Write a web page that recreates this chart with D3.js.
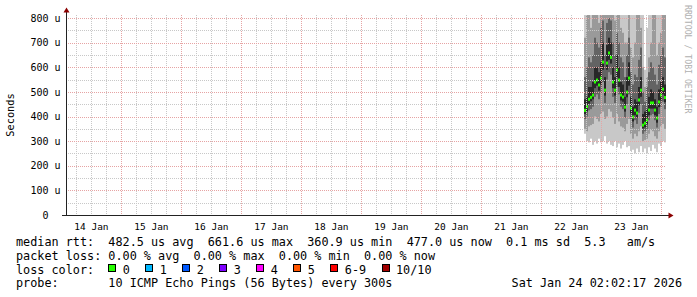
<!DOCTYPE html>
<html>
<head>
<meta charset="utf-8">
<script src="https://cdn.jsdelivr.net/npm/d3@7"></script>
<style>
body { margin: 0; background: #fff; }
text { font-family: "DejaVu Sans Mono", monospace; white-space: pre; }
</style>
</head>
<body>
<svg width="697" height="297"></svg>
<script>
// graph window: 10 days ending at the time stamp
var endTime = Date.UTC(2026, 0, 24, 2, 2, 17);
var startTime = endTime - 10 * 86400000;
var step = 2880000; // one smoke column = 48 min
var firstSample = endTime - 41 * step;

// median rtt per column (us)
var median = [425,440,470,478,487,540,548,528,556,621,507,617,658,640,540,507,589,548,487,479,
              438,499,556,434,398,426,414,467,507,365,373,386,426,455,455,426,394,459,487,511,477];
// smoke bands, outer to inner (us)
var lo1 = [330,300,295,310,285,300,290,310,295,300,320,290,300,285,280,300,275,290,270,285,
           300,275,280,260,265,250,270,255,280,255,270,250,275,260,285,270,255,290,280,300,295];
var hi1 = [812,812,812,812,812,812,812,812,812,812,812,812,812,812,812,812,812,812,812,812,
           812,812,812,812,812,812,812,812,812,812,590,760,812,812,812,812,812,812,812,812,812];
var lo2 = [350,340,360,365,370,400,390,380,410,420,390,400,430,420,395,370,410,380,360,355,
           340,370,390,330,310,330,320,340,360,300,305,310,330,345,340,320,310,340,360,370,350];
var hi2 = [720,812,812,760,812,812,812,780,812,812,812,812,812,812,812,790,812,812,760,740,
           700,700,812,680,640,700,812,812,760,600,520,560,640,700,812,812,650,700,740,812,812];
var lo3 = [390,400,425,430,440,480,490,470,495,540,455,550,580,570,480,455,520,490,440,430,
           395,450,490,390,355,385,370,415,450,330,340,350,385,405,410,385,355,410,440,460,430];
var hi3 = [560,600,640,620,650,720,700,680,760,790,650,780,800,790,700,650,740,700,640,620,
           560,650,720,580,530,570,560,630,680,500,460,520,580,620,600,570,530,610,650,680,640];
var lo4 = [410,420,452,462,470,515,525,505,530,590,485,590,630,615,515,485,560,520,465,460,
           420,478,525,412,380,405,395,445,480,352,356,368,405,432,432,405,375,438,465,490,458];
var hi4 = [470,480,520,520,540,600,600,580,620,700,560,690,720,700,600,560,650,600,540,530,
           480,560,620,480,440,470,460,520,560,410,420,430,480,510,500,470,440,510,540,560,530];

var yTicks = [0, 100, 200, 300, 400, 500, 600, 700, 800];
var lossLabels = ["0", "1", "2", "3", "4", "5", "6-9", "10/10"];
var lossColors = ["#26ff00", "#00b8ff", "#0059ff", "#7e00ff", "#ff00ff", "#ff5500", "#ff0000", "#a10000"];

var svg = d3.select("svg");

var x = d3.scaleUtc().domain([startTime, endTime]).range([66, 666]);
var y = d3.scaleLinear().domain([0, 812.2]).range([215, 15]);

// smoke
var layers = [
  {lo: lo1, hi: hi1, color: "#c8c8c8"},
  {lo: lo2, hi: hi2, color: "#9a9a9a"},
  {lo: lo3, hi: hi3, color: "#636363"},
  {lo: lo4, hi: hi4, color: "#282828"}
];
var smoke = svg.append("g");
layers.forEach(function(l) {
  smoke.selectAll(null)
    .data(median.map(function(m, i) { return i; }))
    .enter().append("rect")
      .attr("x", function(i) { return x(firstSample + i * step); })
      .attr("width", function(i) { return x(firstSample + (i + 1) * step) - x(firstSample + i * step); })
      .attr("y", function(i) { return y(l.hi[i]); })
      .attr("height", function(i) { return y(l.lo[i]) - y(l.hi[i]); })
      .attr("fill", l.color);
});

// median
svg.append("g").selectAll("rect")
  .data(median)
  .enter().append("rect")
    .attr("x", function(d, i) { return x(firstSample + i * step); })
    .attr("width", 2)
    .attr("y", function(d) { return y(d) - 1.5; })
    .attr("height", 3)
    .attr("fill", lossColors[0]);

// grid (drawn over the smoke)
var grid = svg.append("g").attr("shape-rendering", "crispEdges");
var minorY = d3.range(50, 800, 100);
grid.selectAll(".hmin").data(minorY).enter().append("line")
  .attr("x1", 66).attr("x2", 666)
  .attr("y1", function(d) { return Math.round(y(d)) + 0.5; })
  .attr("y2", function(d) { return Math.round(y(d)) + 0.5; })
  .attr("stroke", "#c8c8c8").attr("stroke-dasharray", "1,1");
var hours = x.ticks(d3.utcHour.every(6)).filter(function(d) { return d.getUTCHours() != 0; });
grid.selectAll(".vmin").data(hours).enter().append("line")
  .attr("y1", 15).attr("y2", 215)
  .attr("x1", function(d) { return Math.round(x(d)) + 0.5; })
  .attr("x2", function(d) { return Math.round(x(d)) + 0.5; })
  .attr("stroke", "#c8c8c8").attr("stroke-dasharray", "1,1");
grid.selectAll(".hmaj").data(yTicks.slice(1)).enter().append("line")
  .attr("x1", 66).attr("x2", 666)
  .attr("y1", function(d) { return Math.round(y(d)) + 0.5; })
  .attr("y2", function(d) { return Math.round(y(d)) + 0.5; })
  .attr("stroke", "#e6a4a4").attr("stroke-dasharray", "1,1");
var days = x.ticks(d3.utcDay.every(1));
grid.selectAll(".vmaj").data(days).enter().append("line")
  .attr("y1", 15).attr("y2", 215)
  .attr("x1", function(d) { return Math.round(x(d)) + 0.5; })
  .attr("x2", function(d) { return Math.round(x(d)) + 0.5; })
  .attr("stroke", "#e6a4a4").attr("stroke-dasharray", "1,1");

// axes labels
var yAxis = d3.axisLeft(y).tickValues(yTicks).tickSize(0).tickPadding(6)
  .tickFormat(function(d) { return d ? d + " u" : "0  "; });
var gy = svg.append("g").attr("transform", "translate(66.5,0)").call(yAxis);
gy.select(".domain").remove();
gy.selectAll("text").attr("font-family", null).attr("font-size", 10).attr("fill", "#000");

var noons = days.map(function(d) { return d3.utcHour.offset(d, -12); });
var xAxis = d3.axisBottom(x).tickValues(noons).tickSize(0).tickPadding(8)
  .tickFormat(d3.utcFormat("%d %b"));
var gx = svg.append("g").attr("transform", "translate(0,215)").call(xAxis);
gx.select(".domain").remove();
gx.selectAll("text").attr("font-family", null).attr("font-size", 9.5).attr("fill", "#000");

// axis lines and arrows
svg.append("line").attr("x1", 66.5).attr("x2", 66.5).attr("y1", 215).attr("y2", 10)
  .attr("stroke", "#222");
svg.append("line").attr("x1", 62).attr("x2", 669).attr("y1", 215.5).attr("y2", 215.5)
  .attr("stroke", "#222");
svg.append("path").attr("d", "M63.5,12.5L69.5,12.5L66.5,7.5Z").attr("fill", "#8b0000");
svg.append("path").attr("d", "M668.5,212.5L668.5,218.5L673.5,215.5Z").attr("fill", "#8b0000");

// y title and watermark
svg.append("text")
  .attr("transform", "translate(14,115) rotate(-90)")
  .attr("text-anchor", "middle")
  .attr("font-size", 10.3)
  .text("Seconds");
svg.append("text")
  .attr("transform", "translate(684.5,5) rotate(90)")
  .attr("font-size", 8.2)
  .attr("fill", "#b0b0b0")
  .text("RRDTOOL / TOBI OETIKER");

// legend
var fs = 11.8, cw = 7.1, lx = 16;
var rows = [246, 259.8, 273.5, 287.3];
svg.append("text").attr("x", lx).attr("y", rows[0]).attr("font-size", fs)
  .text("median rtt:  482.5 us avg  661.6 us max  360.9 us min  477.0 us now  0.1 ms sd  5.3   am/s");
svg.append("text").attr("x", lx).attr("y", rows[1]).attr("font-size", fs)
  .text("packet loss: 0.00 % avg  0.00 % max  0.00 % min  0.00 % now");
svg.append("text").attr("x", lx).attr("y", rows[2]).attr("font-size", fs)
  .text("loss color:");
svg.append("text").attr("x", lx).attr("y", rows[3]).attr("font-size", fs)
  .text("probe:       10 ICMP Echo Pings (56 Bytes) every 300s");
svg.append("text").attr("x", 682).attr("y", rows[3]).attr("font-size", fs)
  .attr("text-anchor", "end")
  .text("Sat Jan 24 02:02:17 2026");

var bx = lx + 13 * cw;
lossLabels.forEach(function(lab, i) {
  svg.append("rect")
    .attr("x", Math.round(bx) + 0.5).attr("y", 264.5)
    .attr("width", 7).attr("height", 7)
    .attr("fill", lossColors[i]).attr("stroke", "#000");
  svg.append("text").attr("x", bx + 14.5).attr("y", rows[2]).attr("font-size", fs).text(lab);
  bx = bx + 14.5 + lab.length * cw + 15.4;
});
</script>
</body>
</html>
